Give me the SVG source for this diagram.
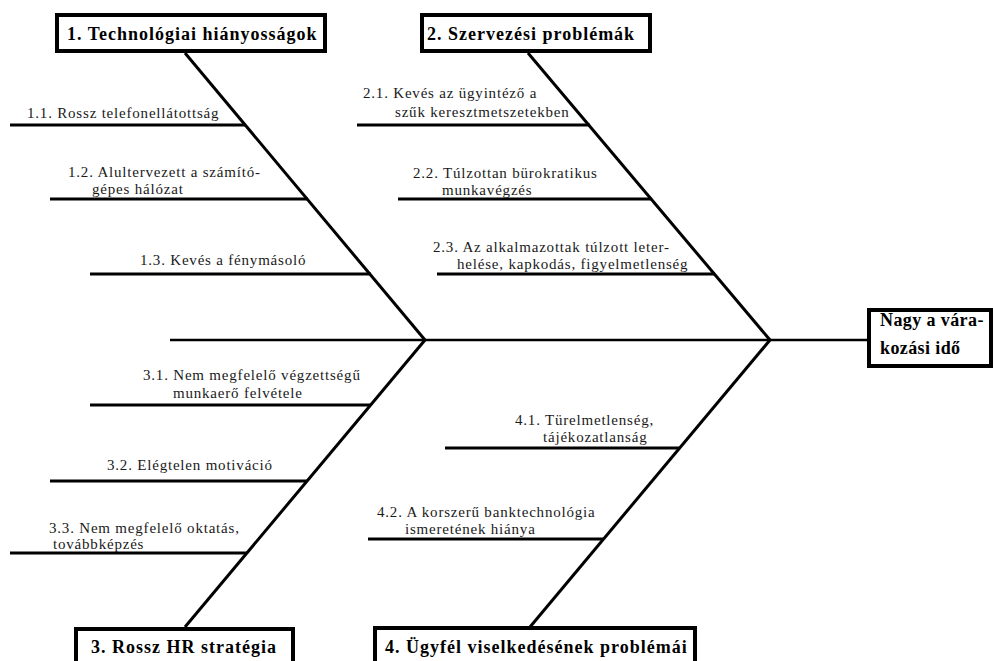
<svg xmlns="http://www.w3.org/2000/svg" width="994" height="661" viewBox="0 0 994 661" font-family="'Liberation Serif', 'DejaVu Serif', serif">
<style>
.box{fill:#fff;stroke:#000;stroke-width:4}
.title{font-family:'Liberation Serif','DejaVu Serif',serif;font-weight:bold;font-size:18px;letter-spacing:1px;fill:#000}
.head{letter-spacing:0.4px}
.lbl{font-family:'Liberation Serif','DejaVu Serif',serif;font-size:15px;letter-spacing:0.8px;fill:#1a1a1a}
.rib{stroke:#000;stroke-width:3;fill:none}
.bone{stroke:#000;stroke-width:3;fill:none}
.spine{stroke:#000;stroke-width:2.5;fill:none}
</style>
<rect width="994" height="661" fill="#fff"/>
<g id="connectors">
<line class="spine" x1="170" y1="340" x2="868" y2="340"/>
<line class="bone" x1="185" y1="53" x2="425" y2="340"/>
<line class="bone" x1="528" y1="53" x2="770" y2="340"/>
<line class="bone" x1="425" y1="340" x2="185" y2="627"/>
<line class="bone" x1="770" y1="340" x2="530" y2="627"/>
</g>
<g id="head">
<rect class="box" x="869" y="310" width="122" height="56"/>
<text class="title head" x="880" y="326">Nagy a vára-</text>
<text class="title head" x="880" y="354">kozási idő</text>
</g>
<g id="cat1">
<rect class="box" x="57" y="15" width="268" height="36"/>
<text class="title" x="67" y="40">1. Technológiai hiányosságok</text>
</g>
<g id="cat2">
<rect class="box" x="422" y="15" width="228" height="36"/>
<text class="title" x="427" y="40">2. Szervezési problémák</text>
</g>
<g id="cat3">
<rect class="box" x="76" y="629" width="217" height="40"/>
<text class="title" x="91" y="653">3. Rossz HR stratégia</text>
</g>
<g id="cat4">
<rect class="box" x="375" y="628" width="320" height="40"/>
<text class="title" x="385" y="653">4. Ügyfél viselkedésének problémái</text>
</g>
<g id="c11">
<line class="rib" x1="10" y1="125" x2="245" y2="125"/>
<text class="lbl" x="27" y="118">1.1. Rossz telefonellátottság</text>
</g>
<g id="c12">
<line class="rib" x1="50" y1="199" x2="308" y2="199"/>
<text class="lbl" x="68" y="177">1.2. Alultervezett a számító-</text>
<text class="lbl" x="92" y="194">gépes hálózat</text>
</g>
<g id="c13">
<line class="rib" x1="90" y1="274" x2="371" y2="274"/>
<text class="lbl" x="140" y="265">1.3. Kevés a fénymásoló</text>
</g>
<g id="c21">
<line class="rib" x1="357" y1="125" x2="590" y2="125"/>
<text class="lbl" x="363" y="98">2.1. Kevés az ügyintéző a</text>
<text class="lbl" x="395" y="117">szűk keresztmetszetekben</text>
</g>
<g id="c22">
<line class="rib" x1="398" y1="199" x2="652" y2="199"/>
<text class="lbl" x="413" y="178">2.2. Túlzottan bürokratikus</text>
<text class="lbl" x="442" y="195">munkavégzés</text>
</g>
<g id="c23">
<line class="rib" x1="437" y1="274" x2="715" y2="274"/>
<text class="lbl" x="433" y="252">2.3. Az alkalmazottak túlzott leter-</text>
<text class="lbl" x="457" y="269">helése, kapkodás, figyelmetlenség</text>
</g>
<g id="c31">
<line class="rib" x1="90" y1="405" x2="371" y2="405"/>
<text class="lbl" x="143" y="380">3.1. Nem megfelelő végzettségű</text>
<text class="lbl" x="173" y="398">munkaerő felvétele</text>
</g>
<g id="c32">
<line class="rib" x1="50" y1="481" x2="307" y2="481"/>
<text class="lbl" x="107" y="470">3.2. Elégtelen motiváció</text>
</g>
<g id="c33">
<line class="rib" x1="10" y1="553" x2="247" y2="553"/>
<text class="lbl" x="49" y="533">3.3. Nem megfelelő oktatás,</text>
<text class="lbl" x="53" y="549">továbbképzés</text>
</g>
<g id="c41">
<line class="rib" x1="445" y1="448" x2="680" y2="448"/>
<text class="lbl" x="515" y="425">4.1. Türelmetlenség,</text>
<text class="lbl" x="543" y="442">tájékozatlanság</text>
</g>
<g id="c42">
<line class="rib" x1="368" y1="539" x2="603" y2="539"/>
<text class="lbl" x="377" y="517">4.2. A korszerű banktechnológia</text>
<text class="lbl" x="405" y="534">ismeretének hiánya</text>
</g>
</svg>
